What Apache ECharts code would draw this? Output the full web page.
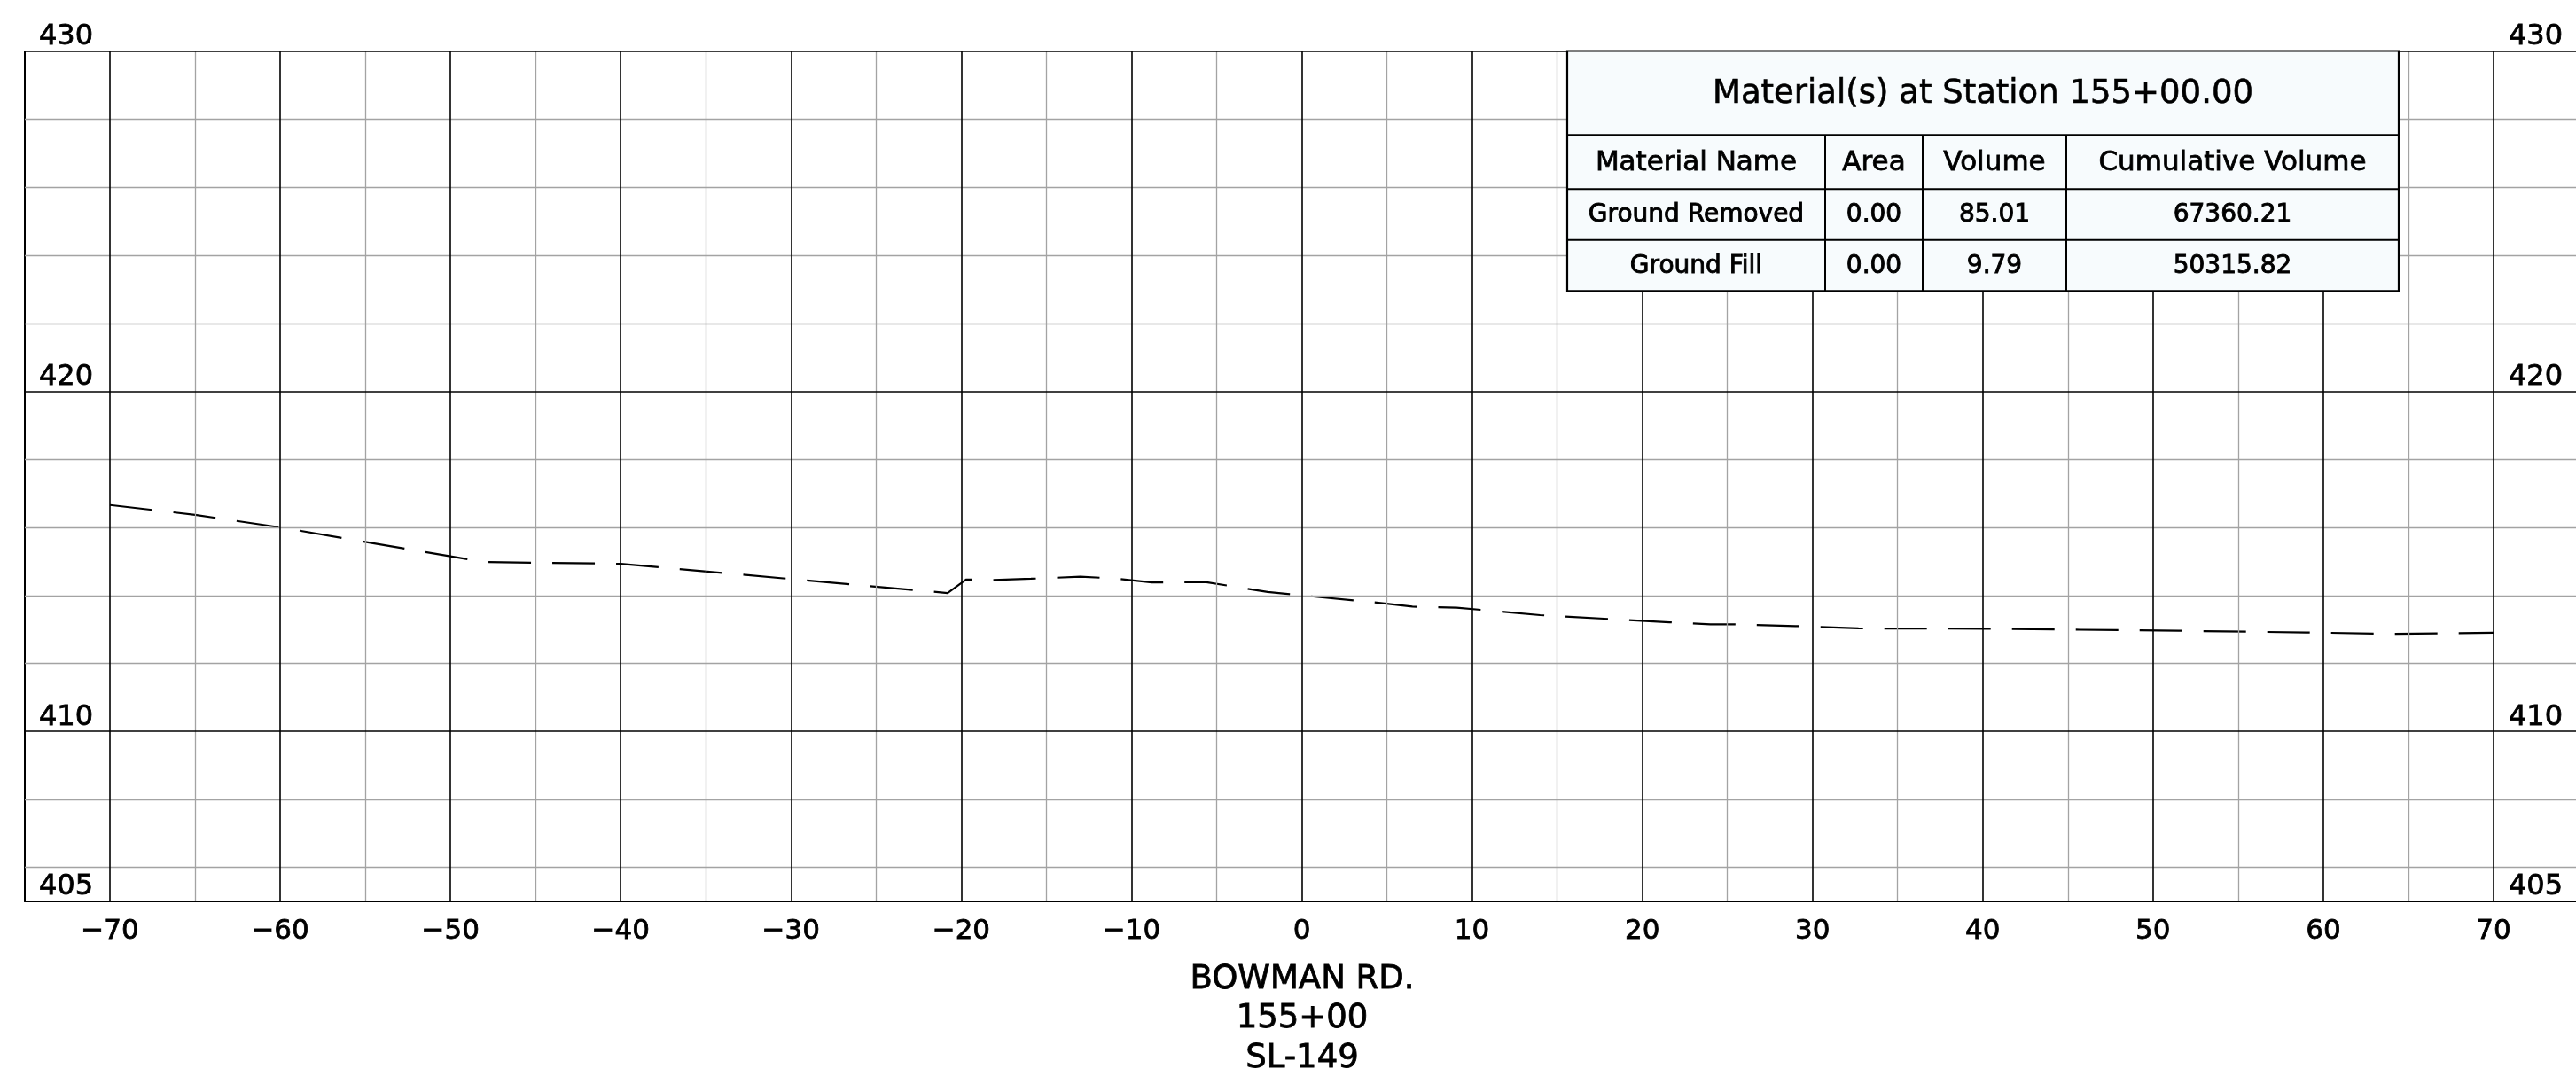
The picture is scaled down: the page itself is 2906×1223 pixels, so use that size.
<!DOCTYPE html>
<html>
<head>
<meta charset="utf-8">
<script src="https://cdn.jsdelivr.net/npm/echarts@6/dist/echarts.min.js"></script>
<style>
html,body{margin:0;padding:0;background:#ffffff;}
#chart{width:2906px;height:1223px;}
</style>
</head>
<body>
<div id="chart"></div>
<script>
// ---- data ----
const offsets = [-70, -65, -60, -48, -40, -20.8, -19.7, -18.4, -15.9, -13, -11, -8.8, -5.6, -2, 0, 4, 6.5, 9.1, 14, 21.6, 24, 25.3, 29, 32.7, 40.2, 45.7, 51.5, 59, 64, 70];
const elevations = [416.66, 416.37, 416.0, 414.98, 414.93, 414.07, 414.47, 414.45, 414.49, 414.55, 414.5, 414.38, 414.39, 414.1, 414.0, 413.81, 413.67, 413.64, 413.42, 413.21, 413.15, 413.15, 413.1, 413.03, 413.02, 412.99, 412.96, 412.91, 412.87, 412.90];

const xMajorTicks = [-70, -60, -50, -40, -30, -20, -10, 0, 10, 20, 30, 40, 50, 60, 70];
const xMinorTicks = [-65, -55, -45, -35, -25, -15, -5, 5, 15, 25, 35, 45, 55, 65];
const yMajorTicks = [410, 420, 430];
const yMinorTicks = [406, 408, 412, 414, 416, 418, 422, 424, 426, 428];
const yLabelValues = [405, 410, 420, 430];

const titleLines = ['BOWMAN RD.', '155+00', 'SL-149'];

const tableTitle = 'Material(s) at Station 155+00.00';
const tableHeader = ['Material Name', 'Area', 'Volume', 'Cumulative Volume'];
const materialNames = ['Ground Removed', 'Ground Fill'];
const materialAreas = ['0.00', '0.00'];
const materialVolumes = ['85.01', '9.79'];
const cumulativeVolumes = ['67360.21', '50315.82'];

// ---- styling ----
const FONT = '"DejaVu Sans", "Liberation Sans", sans-serif';
const GRAY = '#a3a3a3';
const BLACK = '#000000';

const gridLines = [];
xMinorTicks.forEach(v => gridLines.push({xAxis: v, lineStyle: {color: GRAY, width: 1.3, type: 'solid'}}));
yMinorTicks.forEach(v => gridLines.push({yAxis: v, lineStyle: {color: GRAY, width: 1.3, type: 'solid'}}));
xMajorTicks.forEach(v => gridLines.push({xAxis: v, lineStyle: {color: BLACK, width: 1.6, type: 'solid'}}));
yMajorTicks.forEach(v => gridLines.push({yAxis: v, lineStyle: {color: BLACK, width: 1.6, type: 'solid'}}));

const profile = offsets.map((x, i) => [x, elevations[i]]);

function xFmt(v) {
  if (v % 10 !== 0 || Math.abs(v) > 70) return '';
  return v < 0 ? '\u2212' + Math.abs(v) : String(v);
}
function yFmt(v) {
  return yLabelValues.indexOf(v) >= 0 ? String(v) : '';
}

// ---- table graphic ----
const tL = 1768, tR = 2706;
const rowB = [57.5, 152.3, 213.3, 270.7, 328.3];
const colB = [1768, 2059, 2169, 2331, 2706];
const TZ = 100;
function txt(str, x, y, size, sw) {
  return {
    type: 'text', x: x, y: y, z: TZ + 2, silent: true,
    style: {
      text: str, font: size + 'px ' + FONT, fill: BLACK,
      stroke: BLACK, lineWidth: sw,
      align: 'center', verticalAlign: 'middle',
      textAlign: 'center', textVerticalAlign: 'middle'
    }
  };
}
function ln(x1, y1, x2, y2) {
  return {type: 'line', z: TZ + 1, silent: true, shape: {x1, y1, x2, y2}, style: {stroke: BLACK, lineWidth: 2}};
}
const graphics = [];
graphics.push({
  type: 'rect', z: TZ, silent: true,
  shape: {x: tL, y: rowB[0], width: tR - tL, height: rowB[4] - rowB[0]},
  style: {fill: '#f7fbfd', stroke: BLACK, lineWidth: 2.2}
});
[1, 2, 3].forEach(i => graphics.push(ln(tL, rowB[i], tR, rowB[i])));
[1, 2, 3].forEach(i => graphics.push(ln(colB[i], rowB[1], colB[i], rowB[4])));
graphics.push(txt(tableTitle, (tL + tR) / 2, (rowB[0] + rowB[1]) / 2 + 1, 37, 0.6));
const colCenters = [0, 1, 2, 3].map(i => (colB[i] + colB[i + 1]) / 2);
tableHeader.forEach((h, i) => graphics.push(txt(h, colCenters[i], (rowB[1] + rowB[2]) / 2 + 1, 31, 0.8)));
const rows = materialNames.map((n, i) => [n, materialAreas[i], materialVolumes[i], cumulativeVolumes[i]]);
rows.forEach((r, ri) => {
  r.forEach((c, ci) => graphics.push(txt(c, colCenters[ci], (rowB[2 + ri] + rowB[3 + ri]) / 2 + 1, 28, 0.9)));
});

// bottom title
titleLines.forEach((t, i) => graphics.push(txt(t, 1469, 1105 + i * 44.5, 37, 0.8)));

const chart = echarts.init(document.getElementById('chart'), null, {renderer: 'canvas'});
chart.setOption({
  animation: false,
  backgroundColor: '#ffffff',
  grid: {left: 28, top: 58, width: 2881, height: 959, containLabel: false, outerBoundsMode: 'none'},
  xAxis: {
    type: 'value', min: -75, max: 75, interval: 5,
    axisLine: {show: true, onZero: false, lineStyle: {color: BLACK, width: 2}},
    axisTick: {show: false},
    splitLine: {show: false},
    axisLabel: {formatter: xFmt, fontSize: 31, fontFamily: FONT, color: BLACK, margin: 18,
                textBorderColor: BLACK, textBorderWidth: 0.8}
  },
  yAxis: [
    {
      type: 'value', min: 405, max: 430, interval: 5, position: 'left',
      axisLine: {show: true, onZero: false, lineStyle: {color: BLACK, width: 2}},
      axisTick: {show: false}, splitLine: {show: false},
      axisLabel: {inside: true, formatter: yFmt, verticalAlign: 'bottom', align: 'left', margin: 16,
                  fontSize: 32, fontFamily: FONT, color: BLACK, textBorderColor: BLACK, textBorderWidth: 0.8}
    },
    {
      type: 'value', min: 405, max: 430, interval: 5, position: 'right',
      axisLine: {show: true, onZero: false, lineStyle: {color: BLACK, width: 2}},
      axisTick: {show: false}, splitLine: {show: false},
      axisLabel: {inside: true, formatter: yFmt, verticalAlign: 'bottom', align: 'right', margin: 18,
                  fontSize: 32, fontFamily: FONT, color: BLACK, textBorderColor: BLACK, textBorderWidth: 0.8}
    }
  ],
  series: [
    {
      type: 'line', name: 'grid', data: [], z: 1, silent: true,
      markLine: {silent: true, symbol: ['none', 'none'], label: {show: false},
                 emphasis: {disabled: true}, animation: false, data: gridLines}
    },
    {
      type: 'line', name: 'Existing Ground', data: profile, z: 3,
      showSymbol: false, symbol: 'none', silent: true,
      lineStyle: {color: BLACK, width: 2.2, type: [48, 24]}
    }
  ],
  graphic: {elements: graphics}
});
</script>
</body>
</html>
